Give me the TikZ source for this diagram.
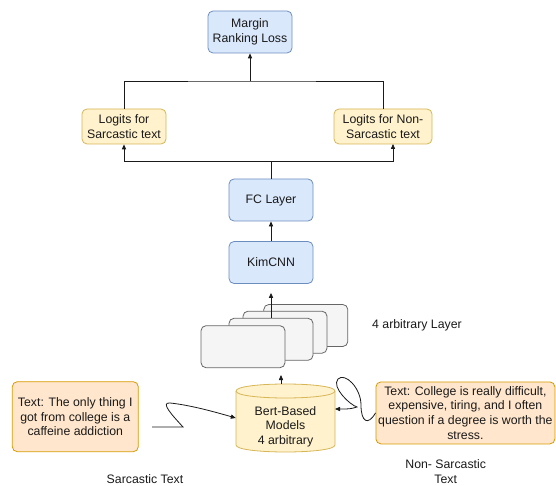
\documentclass[tikz,border=0pt]{standalone}
\usepackage{fontspec}
\setmainfont{Liberation Sans}
\usetikzlibrary{arrows.meta}
\definecolor{bfill}{HTML}{DAE8FC}
\definecolor{bdraw}{HTML}{6C8EBF}
\definecolor{yfill}{HTML}{FFF2CC}
\definecolor{ydraw}{HTML}{D6B656}
\definecolor{ofill}{HTML}{FFE6CC}
\definecolor{odraw}{HTML}{D79B00}
\definecolor{gfill}{HTML}{F5F5F5}
\definecolor{gdraw}{HTML}{666666}
\definecolor{ink}{HTML}{1A1A1A}
\tikzset{
  base/.style={rounded corners=5pt, line width=0.8pt, inner sep=0pt, align=center,
    font=\fontsize{12.3}{14.6}\selectfont, text=ink},
  bluebox/.style={base, fill=bfill, draw=bdraw, minimum width=84pt, minimum height=42pt},
  logit/.style={base, fill=yfill, draw=ydraw, minimum height=35pt},
  txtbox/.style={base, fill=ofill, draw=odraw},
  stackbox/.style={base, fill=gfill, draw=gdraw, minimum width=84pt, minimum height=42pt},
  lbl/.style={align=center, font=\fontsize{12.3}{14.6}\selectfont, text=ink, inner sep=0pt},
  conn/.style={line width=0.8pt, draw=ink},
  arr/.style={conn, -{Triangle[length=5pt,width=4.2pt]}},
}
\begin{document}
\begin{tikzpicture}[x=1pt, y=-1pt]
\useasboundingbox (0,0) rectangle (556,486);
% top part
\node[bluebox] (m) at (250,32) {Margin\\Ranking Loss};
\node[logit, minimum width=84pt] (ll) at (124,126.5) {Logits for\\Sarcastic text};
\node[logit, minimum width=98pt] (lr) at (383,126.5) {Logits for Non-\\Sarcastic text};
\node[bluebox] (fc) at (271,200) {FC Layer};
\node[bluebox] (kim) at (271,262.5) {KimCNN};
\coordinate (top) at (250,81);
\coordinate (bot) at (271,161);
\coordinate (lrin) at (393,144);
\draw[conn] (ll.north) |- (top) -| (lr.north);
\draw[arr] (top) -- (m.south);
\draw[conn] (fc.north) -- (bot);
\draw[arr] (bot) -| (ll.south);
\draw[arr] (bot) -| (lrin);
\draw[arr] (kim.north) -- (fc.south);
% stacked layers
\node[stackbox] (b4) at (305.8,325.5) {};
\node[stackbox] (b3) at (285,332.2) {};
\node[stackbox] (b2) at (271,339.3) {};
\node[stackbox] (b1) at (243,346.7) {};
\draw[arr, shorten >=9pt] (b2.north) -- (kim.south);
\node[lbl] (lay) at (417,325) {4 arbitrary Layer};
% cylinder
\draw[fill=yfill, draw=ydraw, line width=0.8pt]
  (236,391) -- (236,445) .. controls (236,454.33) and (335,454.33) .. (335,445)
  -- (335,391) .. controls (335,381.67) and (236,381.67) .. (236,391) -- cycle;
\draw[draw=ydraw, line width=0.8pt] (236,391) .. controls (236,400.33) and (335,400.33) .. (335,391);
\node[minimum width=99pt, minimum height=68pt, inner sep=0pt] (cyl) at (285.5,418) {};
\node[lbl] (cyltxt) at (285.5,426.5) {Bert-Based\\Models\\4 arbitrary};
\coordinate (cyltop) at (281,384);
\coordinate (stackin) at (281,375);
\draw[arr] (cyltop) -- (stackin);
% text boxes
\node[txtbox, minimum width=126pt, minimum height=70pt] (lt) at (75.3,416.7)
  {Text: The only thing I\\got from college is a\\caffeine addiction};
\node[txtbox, minimum width=179pt, minimum height=62pt] (rt) at (465.4,412.9)
  {Text: College is really difficult,\\expensive, tiring, and I often\\question if a degree is worth the\\stress.};
% connectors with loops
\coordinate (ls) at (152,427);
\draw[arr] (ls) -- (183,427) .. controls (172,415) and (160,402) .. (170,403)
  .. controls (190,405) and (215,412) .. (cyl.west);
\coordinate (rin) at (335,409);
\draw[arr] (rt.west) .. controls (368,426) and (361,422) .. (361,405)
  .. controls (361,388) and (345,372) .. (338,379)
  .. controls (331,387) and (350,405) .. (357,407)
  .. controls (350,409) .. (rin);
% labels
\node[lbl] (sl) at (145,478.7) {Sarcastic Text};
\node[lbl] (nl) at (445.7,471.3) {Non- Sarcastic\\Text};
\end{tikzpicture}
\end{document}
